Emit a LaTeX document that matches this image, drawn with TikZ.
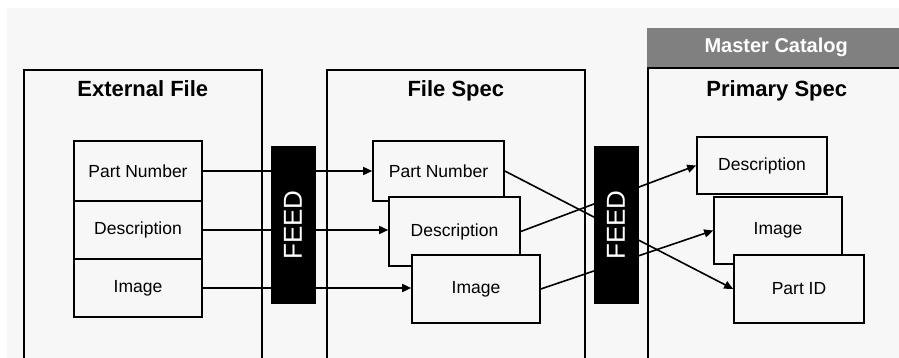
\documentclass[tikz,border=0pt]{standalone}
\usepackage{fontspec}
\setmainfont{Liberation Sans}
\usetikzlibrary{arrows.meta}
\definecolor{paper}{HTML}{F7F7F7}
\definecolor{headgray}{HTML}{808080}
\begin{document}
\begin{tikzpicture}[x=1pt,y=-1pt,
	panel/.style={draw,line width=1.6pt,fill=paper,anchor=north west,inner sep=0pt},
	field/.style={draw,line width=1.6pt,fill=paper,inner sep=0pt,font=\fontsize{17.5}{20}\selectfont},
	ttl/.style={anchor=base,font=\fontsize{22}{26}\selectfont\bfseries},
	head/.style={fill=headgray,text=white,inner sep=0pt,font=\fontsize{20}{24}\selectfont\bfseries},
	feed/.style={fill=black,text=white,rotate=90,minimum width=157,minimum height=45,inner sep=0pt,font=\fontsize{26}{30}\selectfont},
	conn/.style={line width=1.6pt,-{Triangle[length=9pt,width=8pt]}}]
		\useasboundingbox (0,0) rectangle (899,358);
		\clip (0,0) rectangle (899,358);
		\fill[white] (0,0) rectangle (899,358);
		\fill[paper] (7,8) rectangle (899,358);
		
		% the three panels
		\node[panel,minimum width=238,minimum height=300] (ext) at (23,69) {};
		\node[panel,minimum width=258,minimum height=300] (fspec) at (326,69) {};
		\node[panel,minimum width=258,minimum height=300] (pspec) at (647,67) {};
		\node[head,minimum width=258,minimum height=39,anchor=south west] (master) at (pspec.north west) {Master Catalog};
		\node[ttl] (extT) at ([yshift=-28pt]ext.north) {External File};
		\node[ttl] (fspecT) at ([yshift=-28pt]fspec.north) {File Spec};
		\node[ttl] (pspecT) at ([yshift=-30pt]pspec.north) {Primary Spec};
		
		% fields
		\node[field,minimum width=128,minimum height=60] (ef1) at (138,171) {Part Number};
		\node[field,minimum width=128,minimum height=58] (ef2) at (138,230) {Description};
		\node[field,minimum width=128,minimum height=58] (ef3) at (138,288) {Image};
		
		\node[field,minimum width=131,minimum height=60] (fs1) at (438.5,171) {Part Number};
		\node[field,minimum width=131,minimum height=69] (fs2) at (454.5,231.5) {Description};
		\node[field,minimum width=128,minimum height=68] (fs3) at (476,289) {Image};
		
		\node[field,minimum width=130,minimum height=57] (ps1) at (762,165.5) {Description};
		\node[field,minimum width=128,minimum height=67] (ps2) at (778,230.5) {Image};
		\node[field,minimum width=130,minimum height=68] (ps3) at (799,289) {Part ID};
		
		% connectors
		\draw[conn] (ef1.east) -- (fs1.west);
		\draw[conn] (ef2.east) -- (ef2.east -| fs2.west);
		\draw[conn] (ef3.east) -- (ef3.east -| fs3.west);
		\draw[conn] (fs1.east) -- (ps3.west);
		\draw[conn] (fs2.east) -- (ps1.west);
		\draw[conn] (fs3.east) -- (ps2.west);
		
		% feeds on top
		\node[feed] (feed1) at (293,225) {FEED};
		\node[feed] (feed2) at (616,225) {FEED};
\end{tikzpicture}
\end{document}
